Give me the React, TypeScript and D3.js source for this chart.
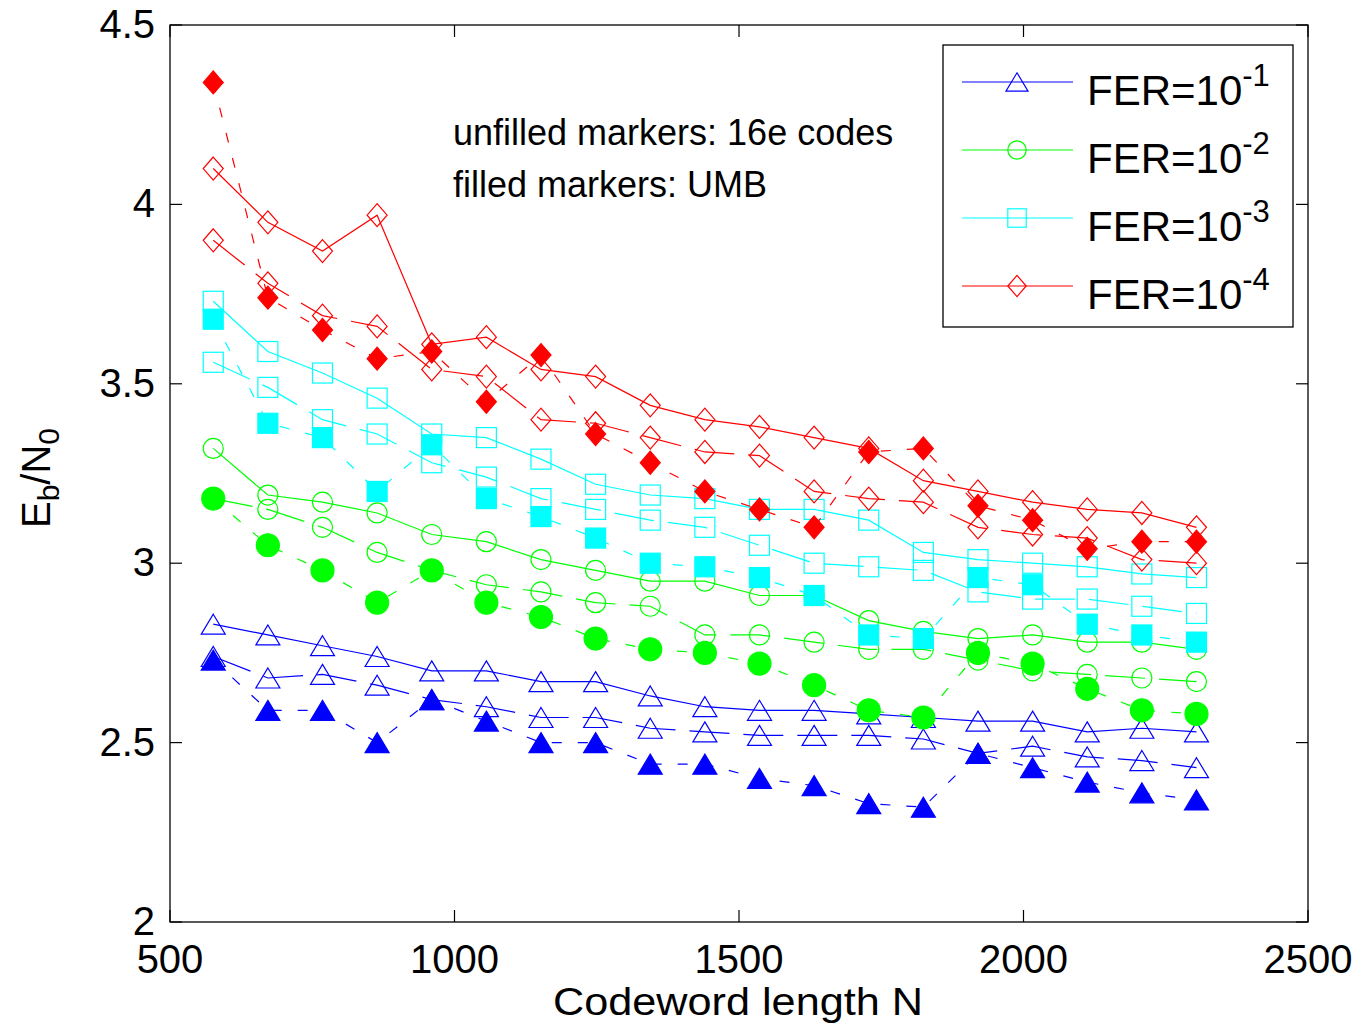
import React from "react";
import * as d3 from "d3";

const codewordLengths = [576, 672, 768, 864, 960, 1056, 1152, 1248, 1344, 1440, 1536, 1632, 1728, 1824, 1920, 2016, 2112, 2208, 2304];

const fer1Upper = [2.83, 2.80, 2.77, 2.74, 2.70, 2.70, 2.67, 2.67, 2.63, 2.60, 2.59, 2.59, 2.58, 2.57, 2.56, 2.56, 2.53, 2.54, 2.53];
const fer1Lower = [2.74, 2.68, 2.69, 2.66, 2.62, 2.60, 2.57, 2.57, 2.54, 2.53, 2.52, 2.52, 2.52, 2.51, 2.47, 2.49, 2.46, 2.45, 2.43];
const fer1UMB = [2.73, 2.59, 2.59, 2.50, 2.62, 2.56, 2.50, 2.50, 2.44, 2.44, 2.40, 2.38, 2.33, 2.32, 2.47, 2.43, 2.39, 2.36, 2.34];

const fer2Upper = [3.32, 3.19, 3.17, 3.14, 3.08, 3.06, 3.01, 2.98, 2.95, 2.95, 2.91, 2.91, 2.84, 2.81, 2.79, 2.80, 2.78, 2.78, 2.76];
const fer2Lower = [3.18, 3.15, 3.10, 3.03, 2.98, 2.94, 2.92, 2.89, 2.88, 2.80, 2.80, 2.78, 2.76, 2.76, 2.73, 2.70, 2.69, 2.68, 2.67];
const fer2UMB = [3.18, 3.05, 2.98, 2.89, 2.98, 2.89, 2.85, 2.79, 2.76, 2.75, 2.72, 2.66, 2.59, 2.57, 2.75, 2.72, 2.65, 2.59, 2.58];

const fer3Upper = [3.73, 3.59, 3.53, 3.46, 3.36, 3.35, 3.29, 3.22, 3.19, 3.18, 3.15, 3.15, 3.12, 3.03, 3.01, 3.00, 2.99, 2.97, 2.96];
const fer3Lower = [3.56, 3.49, 3.40, 3.36, 3.28, 3.24, 3.18, 3.15, 3.12, 3.10, 3.05, 3.00, 2.99, 2.98, 2.92, 2.90, 2.90, 2.88, 2.86];
const fer3UMB = [3.68, 3.39, 3.35, 3.20, 3.33, 3.18, 3.13, 3.07, 3.00, 2.99, 2.96, 2.91, 2.80, 2.79, 2.96, 2.94, 2.83, 2.80, 2.78];

const fer4Upper = [4.10, 3.95, 3.87, 3.97, 3.61, 3.63, 3.54, 3.52, 3.44, 3.40, 3.38, 3.35, 3.32, 3.23, 3.20, 3.17, 3.15, 3.14, 3.10];
const fer4Lower = [3.90, 3.78, 3.69, 3.66, 3.54, 3.52, 3.40, 3.39, 3.35, 3.31, 3.30, 3.20, 3.18, 3.17, 3.10, 3.08, 3.07, 3.01, 3.00];
const fer4UMB = [4.34, 3.74, 3.65, 3.57, 3.59, 3.45, 3.58, 3.36, 3.28, 3.20, 3.15, 3.10, 3.31, 3.32, 3.16, 3.12, 3.04, 3.06, 3.06];

const xTicks = [500, 1000, 1500, 2000, 2500];
const yTicks = [2, 2.5, 3, 3.5, 4, 4.5];
const legendLabels = ["FER=10", "FER=10", "FER=10", "FER=10"];
const legendExponents = ["-1", "-2", "-3", "-4"];

type Shape = "triangle" | "circle" | "square" | "diamond";

const groups: { color: string; shape: Shape; upper: number[]; lower: number[]; umb: number[] }[] = [
  { color: "#0000ff", shape: "triangle", upper: fer1Upper, lower: fer1Lower, umb: fer1UMB },
  { color: "#00ff00", shape: "circle", upper: fer2Upper, lower: fer2Lower, umb: fer2UMB },
  { color: "#00ffff", shape: "square", upper: fer3Upper, lower: fer3Lower, umb: fer3UMB },
  { color: "#ff0000", shape: "diamond", upper: fer4Upper, lower: fer4Lower, umb: fer4UMB },
];

const FONT = "'Liberation Sans', Arial, Helvetica, sans-serif";

function Marker({ shape, x, y, color, filled, scale = 1 }: { shape: Shape; x: number; y: number; color: string; filled: boolean; scale?: number }) {
  const fill = filled ? color : "none";
  const sw = 1.2;
  if (shape === "triangle") {
    const w = 12 * scale, h = 10 * scale;
    return <path d={`M${x},${y - h}L${x + w},${y + h}L${x - w},${y + h}Z`} fill={fill} stroke={color} strokeWidth={sw} />;
  }
  if (shape === "circle") {
    const r = (filled ? 11.5 : 10) * scale;
    return <circle cx={x} cy={y} r={r} fill={fill} stroke={color} strokeWidth={sw} />;
  }
  if (shape === "square") {
    const s = 10 * scale;
    return <rect x={x - s} y={y - s} width={2 * s} height={2 * s} fill={fill} stroke={color} strokeWidth={sw} />;
  }
  const w = 10 * scale, h = 11.5 * scale;
  return <path d={`M${x},${y - h}L${x + w},${y}L${x},${y + h}L${x - w},${y}Z`} fill={fill} stroke={color} strokeWidth={sw} />;
}

export default function App() {
  const W = 1362, H = 1034;
  const left = 170, right = 1308, top = 25, bottom = 922;
  const x = d3.scaleLinear().domain([500, 2500]).range([left, right]);
  const y = d3.scaleLinear().domain([2, 4.5]).range([bottom, top]);
  const line = d3.line<number>().x((_, i) => x(codewordLengths[i])).y((d) => y(d));
  const tickLen = 12;

  const legendX1 = 962, legendX2 = 1073, legendMX = 1017;
  const legendY = [82, 150, 218, 286];

  return (
    <svg width={W} height={H} style={{ position: "absolute", left: 0, top: 0, display: "block", background: "#fff" }} fontFamily={FONT}>
      <rect x={0} y={0} width={W} height={H} fill="#fff" />
      {/* data */}
      {groups.map((g, gi) => (
        <g key={gi}>
          <path d={line(g.upper) || ""} fill="none" stroke={g.color} strokeWidth={1.2} />
          <path d={line(g.lower) || ""} fill="none" stroke={g.color} strokeWidth={1.2} strokeDasharray="40,14" />
          <path d={line(g.umb) || ""} fill="none" stroke={g.color} strokeWidth={1.2} strokeDasharray="10,16" />
          {g.upper.map((v, i) => (
            <Marker key={"u" + i} shape={g.shape} x={x(codewordLengths[i])} y={y(v)} color={g.color} filled={false} />
          ))}
          {g.lower.map((v, i) => (
            <Marker key={"l" + i} shape={g.shape} x={x(codewordLengths[i])} y={y(v)} color={g.color} filled={false} />
          ))}
          {g.umb.map((v, i) => (
            <Marker key={"f" + i} shape={g.shape} x={x(codewordLengths[i])} y={y(v)} color={g.color} filled={true} />
          ))}
        </g>
      ))}

      {/* axes box */}
      <rect x={left} y={top} width={right - left} height={bottom - top} fill="none" stroke="#000" strokeWidth={1.3} />
      {xTicks.map((t) => (
        <g key={"xt" + t}>
          <line x1={x(t)} x2={x(t)} y1={bottom} y2={bottom - tickLen} stroke="#000" strokeWidth={1.2} />
          <line x1={x(t)} x2={x(t)} y1={top} y2={top + tickLen} stroke="#000" strokeWidth={1.2} />
          <text x={x(t)} y={bottom + 51} fontSize={40} textAnchor="middle" fill="#000">{t}</text>
        </g>
      ))}
      {yTicks.map((t) => (
        <g key={"yt" + t}>
          <line x1={left} x2={left + tickLen} y1={y(t)} y2={y(t)} stroke="#000" strokeWidth={1.2} />
          <line x1={right} x2={right - tickLen} y1={y(t)} y2={y(t)} stroke="#000" strokeWidth={1.2} />
          <text x={155} y={y(t) + 13} fontSize={40} textAnchor="end" fill="#000">{String(t)}</text>
        </g>
      ))}

      {/* axis labels */}
      <text x={553} y={1015} fontSize={38} textLength={370} lengthAdjust="spacingAndGlyphs" fill="#000">Codeword length N</text>
      <text transform="translate(50,528) rotate(-90)" fontSize={40} fill="#000">
        E<tspan fontSize={30} dy={9}>b</tspan><tspan dy={-9}>/N</tspan><tspan fontSize={30} dy={9}>0</tspan>
      </text>

      {/* annotation */}
      <text x={453} y={145} fontSize={36} fill="#000">unfilled markers: 16e codes</text>
      <text x={453} y={197} fontSize={36} fill="#000">filled markers: UMB</text>

      {/* legend */}
      <rect x={943} y={45} width={350} height={282} fill="#fff" stroke="#000" strokeWidth={1.3} />
      {groups.map((g, i) => (
        <g key={"lg" + i}>
          <line x1={legendX1} x2={legendX2} y1={legendY[i]} y2={legendY[i]} stroke={g.color} strokeWidth={1.2} />
          <Marker shape={g.shape} x={legendMX} y={legendY[i]} color={g.color} filled={false} scale={0.92} />
          <text x={1087} y={legendY[i] + 23} fontSize={42} fill="#000">
            {legendLabels[i]}<tspan fontSize={31} dy={-19}>{legendExponents[i]}</tspan>
          </text>
        </g>
      ))}
    </svg>
  );
}
